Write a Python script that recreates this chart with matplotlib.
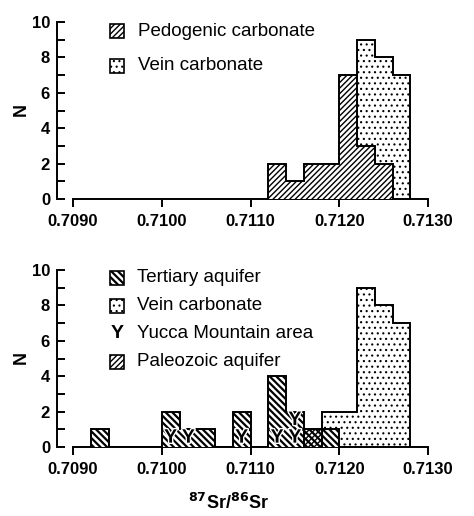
import matplotlib
matplotlib.use("Agg")
import matplotlib.pyplot as plt
import matplotlib.patheffects as pe
from matplotlib.patches import Rectangle
import numpy as np

plt.rcParams['font.family'] = ['Liberation Sans', 'DejaVu Sans']

# ---- data ----
bin_width = 0.0002
# top panel
pedo_start = 0.7112
pedo_counts = [2, 1, 2, 2, 7, 3, 2]
vein_start = 0.7118
vein_counts = [2, 2, 9, 8, 7]
# bottom panel
tert_start = 0.7092
tert_counts = [1, 0, 0, 0, 2, 1, 1, 0, 2, 0, 4, 2, 1, 1]
paleo_start = 0.7116
paleo_counts = [1]
yucca_x = [0.7100, 0.7102, 0.7108, 0.7112, 0.7114, 0.7114]   # bin left edges
yucca_level = [0, 0, 0, 0, 0, 1]
xticks = [0.7090, 0.7100, 0.7110, 0.7120, 0.7130]
xticklabels = ['0.7090', '0.7100', '0.7110', '0.7120', '0.7130']
yticks = [0, 2, 4, 6, 8, 10]

W, H = 474, 516
fig = plt.figure(figsize=(W / 100, H / 100), dpi=100)

PEDO_HATCH = '/' * 6
TERT_HATCH = '\\' * 5
DOT_HATCH = '...'


def fx(px):
    return px / W


def fy(py):
    return 1 - py / H


x_left_px, x0_px, x1_px = 57, 73, 428
xspan = (0.7130 - 0.7090) / (x1_px - x0_px)
xlim = (0.7090 - (x0_px - x_left_px) * xspan, 0.7130)


def make_ax(top_px, bot_px):
    ax = fig.add_axes([fx(x_left_px), fy(bot_px), fx(x1_px - x_left_px), (bot_px - top_px) / H])
    ax.set_xlim(*xlim)
    ax.set_ylim(0, 10)
    for s in ['top', 'right']:
        ax.spines[s].set_visible(False)
    ax.spines['bottom'].set_bounds(0.7090, 0.7130)
    for s in ['left', 'bottom']:
        ax.spines[s].set_linewidth(1.4)
    ax.set_xticks(xticks)
    ax.set_xticklabels(xticklabels)
    ax.set_yticks(yticks)
    ax.set_yticks([1, 3, 5, 7, 9], minor=True)
    ax.tick_params(axis='x', direction='out', length=6, width=1.4, pad=5, labelsize=12)
    ax.tick_params(axis='y', which='both', direction='in', length=6, width=1.4, pad=5, labelsize=12)
    for lab in ax.get_xticklabels() + ax.get_yticklabels():
        lab.set_fontweight('bold')
    ax.patch.set_visible(False)
    return ax


def hist(ax, start, counts, hatch, face='white', hlw=1.0, z=2):
    edges = start + bin_width * np.arange(len(counts) + 1)
    st = ax.stairs(counts, edges, fill=True, facecolor=face, edgecolor='black',
                   hatch=hatch, linewidth=1.4, zorder=z)
    try:
        st.set_hatch_linewidth(hlw)
    except Exception:
        pass
    return st


def legend_patch(x, yc, hatch, hlw=1.0, size=14):
    r = Rectangle((fx(x), fy(yc + size / 2)), size / W, size / H, transform=fig.transFigure,
                  facecolor='white', edgecolor='black', hatch=hatch, linewidth=1.2)
    try:
        r.set_hatch_linewidth(hlw)
    except Exception:
        pass
    fig.patches.append(r)


# ---- top panel ----
ax1 = make_ax(22, 199)
hist(ax1, vein_start, vein_counts, DOT_HATCH, hlw=0.8, z=2)
hist(ax1, pedo_start, pedo_counts, PEDO_HATCH, hlw=1.0, z=3)

legend_patch(110, 31, PEDO_HATCH)
fig.text(fx(138), fy(31), 'Pedogenic carbonate', fontsize=13.5, va='center', ha='left')
legend_patch(110, 66, DOT_HATCH, hlw=0.8)
fig.text(fx(138), fy(66), 'Vein carbonate', fontsize=13.5, va='center', ha='left')
fig.text(fx(21), fy(110), 'N', fontsize=13, fontweight='bold', rotation=90, va='center', ha='center')

# ---- bottom panel ----
ax2 = make_ax(270, 447)
hist(ax2, vein_start, vein_counts, DOT_HATCH, hlw=0.8, z=2)
hist(ax2, tert_start, tert_counts, TERT_HATCH, hlw=1.6, z=3)
hist(ax2, paleo_start, paleo_counts, PEDO_HATCH, face='none', hlw=1.0, z=4)
for xl, lv in zip(yucca_x, yucca_level):
    ax2.text(xl + bin_width / 2, lv + 0.5, 'Y', fontsize=14, fontweight='bold', ha='center',
             va='center', zorder=6,
             path_effects=[pe.withStroke(linewidth=2.0, foreground='white')])

legend_patch(110, 278, TERT_HATCH, hlw=1.6)
fig.text(fx(137), fy(278), 'Tertiary aquifer', fontsize=13.5, va='center', ha='left')
legend_patch(110, 306, DOT_HATCH, hlw=0.8)
fig.text(fx(137), fy(306), 'Vein carbonate', fontsize=13.5, va='center', ha='left')
fig.text(fx(117), fy(334), 'Y', fontsize=14, fontweight='bold', va='center', ha='center')
fig.text(fx(137), fy(334), 'Yucca Mountain area', fontsize=13.5, va='center', ha='left')
legend_patch(110, 362, PEDO_HATCH)
fig.text(fx(137), fy(362), 'Paleozoic aquifer', fontsize=13.5, va='center', ha='left')
fig.text(fx(21), fy(358), 'N', fontsize=13, fontweight='bold', rotation=90, va='center', ha='center')

fig.text(fx(229), fy(503), r'$\mathbf{^{87}}$Sr/$\mathbf{^{86}}$Sr', fontsize=13, fontweight='bold',
         ha='center', va='center')

fig.savefig('out.png', dpi=100)
